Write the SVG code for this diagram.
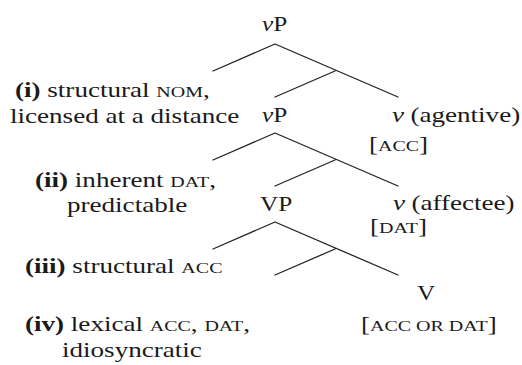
<svg xmlns="http://www.w3.org/2000/svg" width="522" height="365" viewBox="0 0 522 365">
<defs>
<path id="branch" d="M-62,27 L0,0 L123,53 M60,27 L0,53" fill="none" stroke="#222" stroke-width="1.3" stroke-linecap="round" stroke-linejoin="round"/>
</defs>
<rect width="522" height="365" fill="#fff"/>
<g id="connectors">
<use href="#branch" x="275" y="44"/>
<use href="#branch" x="275" y="133"/>
<use href="#branch" x="275" y="222"/>
</g>
<g font-family="Liberation Serif" font-size="21" fill="#1a1a1a">
<g id="vP-top"><text font-family="Liberation Serif" transform="translate(262,31) scale(1.2,1)"><tspan font-style="italic">v</tspan>P</text></g>
<g id="label-i">
<text font-family="Liberation Serif" transform="translate(15,97) scale(1.29,1)"><tspan font-weight="bold">(i)</tspan> structural <tspan font-size="15.5">NOM</tspan>,</text>
<text font-family="Liberation Serif" transform="translate(10,123) scale(1.29,1)">licensed at a distance</text>
</g>
<g id="vP-mid"><text font-family="Liberation Serif" transform="translate(262,122) scale(1.2,1)"><tspan font-style="italic">v</tspan>P</text></g>
<g id="v-agentive">
<text font-family="Liberation Serif" transform="translate(392,122) scale(1.29,1)"><tspan font-style="italic">v</tspan><tspan dx="5">(agentive)</tspan></text>
<text font-family="Liberation Serif" transform="translate(369,151) scale(1.29,1)">[<tspan font-size="15.5">ACC</tspan>]</text>
</g>
<g id="label-ii">
<text font-family="Liberation Serif" transform="translate(35,187) scale(1.29,1)"><tspan font-weight="bold">(ii)</tspan> inherent <tspan font-size="15.5">DAT</tspan>,</text>
<text font-family="Liberation Serif" transform="translate(67,212) scale(1.29,1)">predictable</text>
</g>
<g id="VP"><text font-family="Liberation Serif" transform="translate(260,211) scale(1.2,1)">VP</text></g>
<g id="v-affectee">
<text font-family="Liberation Serif" transform="translate(393,210) scale(1.29,1)"><tspan font-style="italic">v</tspan><tspan dx="5">(affectee)</tspan></text>
<text font-family="Liberation Serif" transform="translate(370,233) scale(1.29,1)">[<tspan font-size="15.5">DAT</tspan>]</text>
</g>
<g id="label-iii">
<text font-family="Liberation Serif" transform="translate(25,273) scale(1.29,1)"><tspan font-weight="bold">(iii)</tspan> structural <tspan font-size="15.5">ACC</tspan></text>
</g>
<g id="V">
<text font-family="Liberation Serif" transform="translate(417,300) scale(1.2,1)">V</text>
<text font-family="Liberation Serif" transform="translate(361,331) scale(1.29,1)">[<tspan font-size="15.5">ACC OR DAT</tspan>]</text>
</g>
<g id="label-iv">
<text font-family="Liberation Serif" transform="translate(25,331) scale(1.29,1)"><tspan font-weight="bold">(iv)</tspan> lexical <tspan font-size="15.5">ACC</tspan>, <tspan font-size="15.5">DAT</tspan>,</text>
<text font-family="Liberation Serif" transform="translate(62,357) scale(1.29,1)">idiosyncratic</text>
</g>
</g>
</svg>
